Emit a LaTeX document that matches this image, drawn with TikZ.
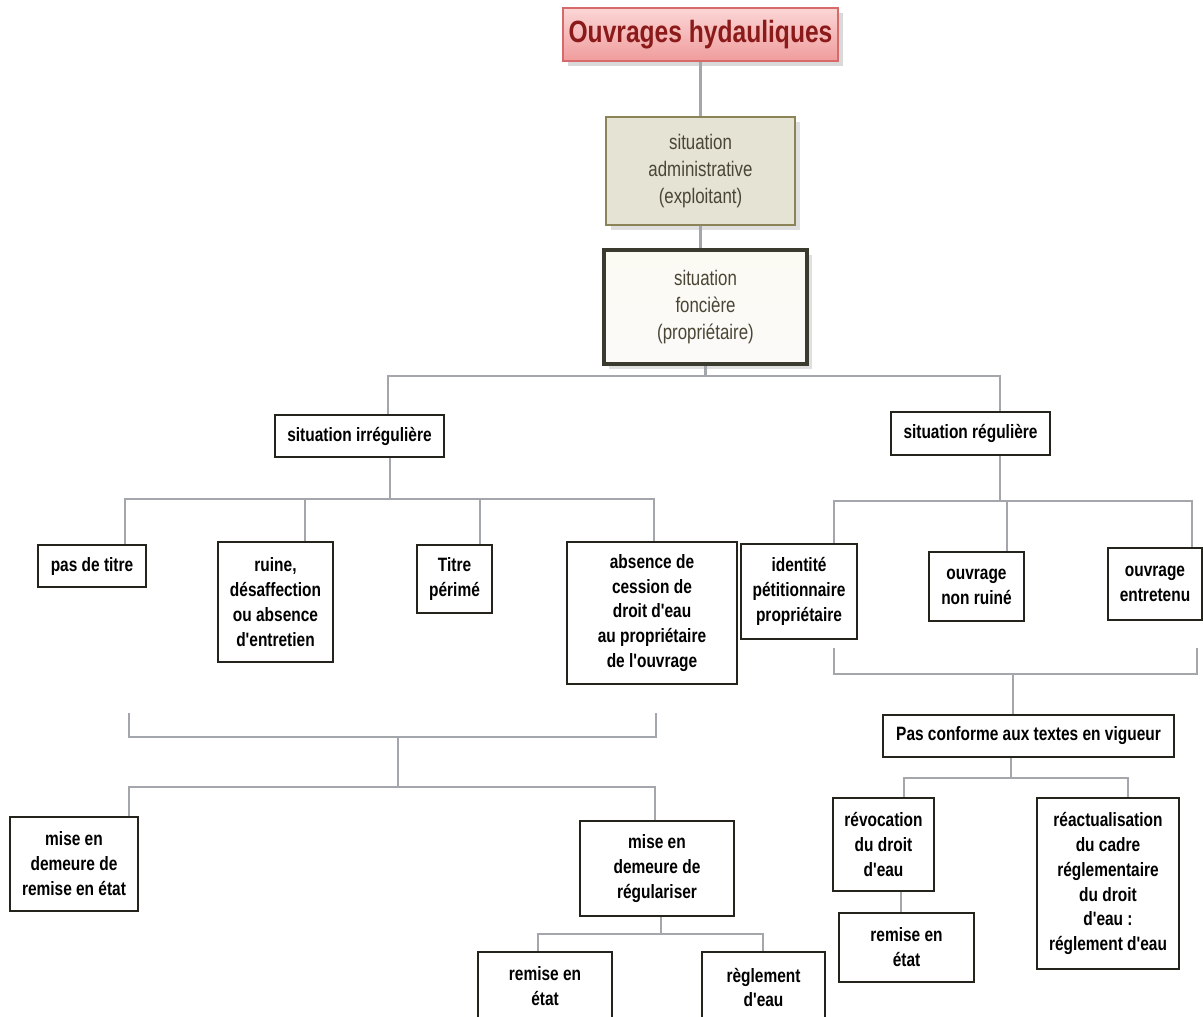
\documentclass[tikz,border=0pt]{standalone}
\usepackage{fontspec}
\setmainfont{Liberation Sans}[FakeStretch=0.8, Ligatures=TeXOff]
\usetikzlibrary{shadows}

\definecolor{linkgray}{HTML}{A3A7AB}
\definecolor{boxline}{HTML}{24241C}
\definecolor{titlered}{HTML}{8B1A1A}
\definecolor{titleedge}{HTML}{D66A6A}
\definecolor{titletop}{HTML}{FBD6D6}
\definecolor{titlebot}{HTML}{F09C9C}
\definecolor{admfill}{HTML}{E5E4D4}
\definecolor{admedge}{HTML}{8C8459}
\definecolor{foncedge}{HTML}{3B3A2E}
\definecolor{foncfill}{HTML}{F8F6E6}
\definecolor{uppertext}{HTML}{4A4535}

\begin{document}
\begin{tikzpicture}[x=0.02cm, y=-0.02cm,
  block/.style={rectangle, draw=boxline, line width=1.6pt, fill=white, align=center, inner sep=0pt, font=\bfseries\fontsize{11}{14.2}\selectfont},
  headbox/.style={rectangle, draw=titleedge, line width=1pt, top color=titletop, bottom color=titlebot, text=titlered, inner sep=0pt, font=\bfseries\fontsize{17.5}{20}\selectfont, drop shadow={opacity=0.3}},
  admbox/.style={rectangle, draw=admedge, line width=1.2pt, fill=admfill, text=uppertext, align=center, inner sep=0pt, font=\fontsize{12}{15.6}\selectfont, drop shadow={opacity=0.25}},
  foncbox/.style={rectangle, draw=foncedge, line width=2.6pt, top color=foncfill!50!white, bottom color=foncfill!85!black!10, text=uppertext, align=center, inner sep=0pt, font=\fontsize{12}{15.6}\selectfont, drop shadow={opacity=0.25}},
  wh/.style 2 args={minimum width=#1*0.02cm, minimum height=#2*0.02cm},
  line/.style={draw=linkgray, line width=1.5pt}
]
    \useasboundingbox (0,0) rectangle (1203,1017);
    \clip (0,0) rectangle (1203,1017);

    % upper part
    \node [headbox, wh={275}{53}] (top) at (700.5,34.5) {Ouvrages hydauliques};
    \node [admbox, wh={189}{108}] (admin) at (700.5,171) {situation\\administrative\\(exploitant)};
    \node [foncbox, wh={203}{114}] (fonc) at (705.5,307) {situation\\foncière\\(propriétaire)};

    \node [block, wh={169}{42}] (irr) at (359.5,436) {situation irrégulière};
    \node [block, wh={159}{43}] (reg) at (970.5,433.5) {situation régulière};

    % irregular side
    \node [block, wh={108}{42}] (ptitre) at (92,566) {pas de titre};
    \node [block, wh={115}{120}] (ruine) at (275.5,602) {ruine,\\désaffection\\ou absence\\d'entretien};
    \node [block, wh={75}{68}] (perime) at (454.5,579) {Titre\\périmé};
    \node [block, wh={170}{142}] (cession) at (652,613) {absence de\\cession de\\droit d'eau\\au propriétaire\\de l'ouvrage};
    \node [block, wh={128}{94}] (demremise) at (74,864) {mise en\\demeure de\\remise en état};
    \node [block, wh={154}{95}] (demregul) at (657,868.5) {mise en\\demeure de\\régulariser};
    \node [block, wh={134}{68}] (remise) at (545,986) {remise en\\état};
    \node [block, wh={123}{71}] (reglement) at (763.5,987.5) {règlement\\d'eau};

    % regular side
    \node [block, wh={116}{95}] (ident) at (799,591.5) {identité\\pétitionnaire\\propriétaire};
    \node [block, wh={95}{69}] (nonruine) at (976.5,586.5) {ouvrage\\non ruiné};
    \node [block, wh={94}{72}] (entretenu) at (1155,584) {ouvrage\\entretenu};
    \node [block, wh={291}{42}] (conforme) at (1028.5,736) {Pas conforme aux textes en vigueur};
    \node [block, wh={101}{93}] (revoc) at (883.5,844.5) {révocation\\du droit\\d'eau};
    \node [block, wh={135}{69}] (remiseb) at (906.5,947.5) {remise en\\état};
    \node [block, wh={142}{171}] (reactu) at (1108,883.5) {réactualisation\\du cadre\\réglementaire\\du droit\\d'eau :\\réglement d'eau};

    % trunk
    \coordinate (fb) at (707,376);
    \coordinate (fbl) at (388,376);
    \coordinate (fbr) at (1000,376);
    \path [line] (top) -- (admin);
    \path [line] (admin.south) -- (admin.south |- fonc.north);
    \path [line] (fonc.south) -- (fonc.south |- fb);
    \path [line] (fbl |- irr.north) -- (fbl) -- (fbr) -- (fbr |- reg.north);

    % irregular children
    \coordinate (ib) at (390,499);
    \coordinate (ib1) at (125,499);
    \coordinate (ib2) at (305,499);
    \coordinate (ib3) at (480,499);
    \coordinate (ib4) at (654,499);
    \path [line] (ib |- irr.south) -- (ib);
    \path [line] (ib1 |- ptitre.north) -- (ib1) -- (ib4) -- (ib4 |- cession.north);
    \path [line] (ib2) -- (ib2 |- ruine.north);
    \path [line] (ib3) -- (ib3 |- perime.north);

    % left bracket
    \coordinate (kl1) at (129,713);
    \coordinate (kl2) at (656,713);
    \coordinate (kl) at (398,737);
    \coordinate (lb) at (398,787);
    \coordinate (lb1) at (129,787);
    \coordinate (lb2) at (655,787);
    \path [line] (kl1) -- (kl1 |- kl) -- (kl2 |- kl) -- (kl2);
    \path [line] (kl) -- (lb);
    \path [line] (lb1 |- demremise.north) -- (lb1) -- (lb2) -- (lb2 |- demregul.north);

    \coordinate (gb) at (661,934);
    \coordinate (gb1) at (538,934);
    \coordinate (gb2) at (763,934);
    \path [line] (gb |- demregul.south) -- (gb);
    \path [line] (gb1 |- remise.north) -- (gb1) -- (gb2) -- (gb2 |- reglement.north);

    % regular children
    \coordinate (rb) at (1000,501);
    \coordinate (rb1) at (834,501);
    \coordinate (rb2) at (1007,501);
    \coordinate (rb3) at (1192,501);
    \path [line] (rb |- reg.south) -- (rb);
    \path [line] (rb1 |- ident.north) -- (rb1) -- (rb3) -- (rb3 |- entretenu.north);
    \path [line] (rb2) -- (rb2 |- nonruine.north);

    % right bracket
    \coordinate (kr1) at (834,648);
    \coordinate (kr2) at (1197,648);
    \coordinate (kr) at (1013,674);
    \path [line] (kr1) -- (kr1 |- kr) -- (kr2 |- kr) -- (kr2);
    \path [line] (kr) -- (kr |- conforme.north);

    \coordinate (cb) at (1011,778);
    \coordinate (cb1) at (904,778);
    \coordinate (cb2) at (1128,778);
    \coordinate (rv) at (901,900);
    \path [line] (cb |- conforme.south) -- (cb);
    \path [line] (cb1 |- revoc.north) -- (cb1) -- (cb2) -- (cb2 |- reactu.north);
    \path [line] (rv |- revoc.south) -- (rv |- remiseb.north);
\end{tikzpicture}
\end{document}
